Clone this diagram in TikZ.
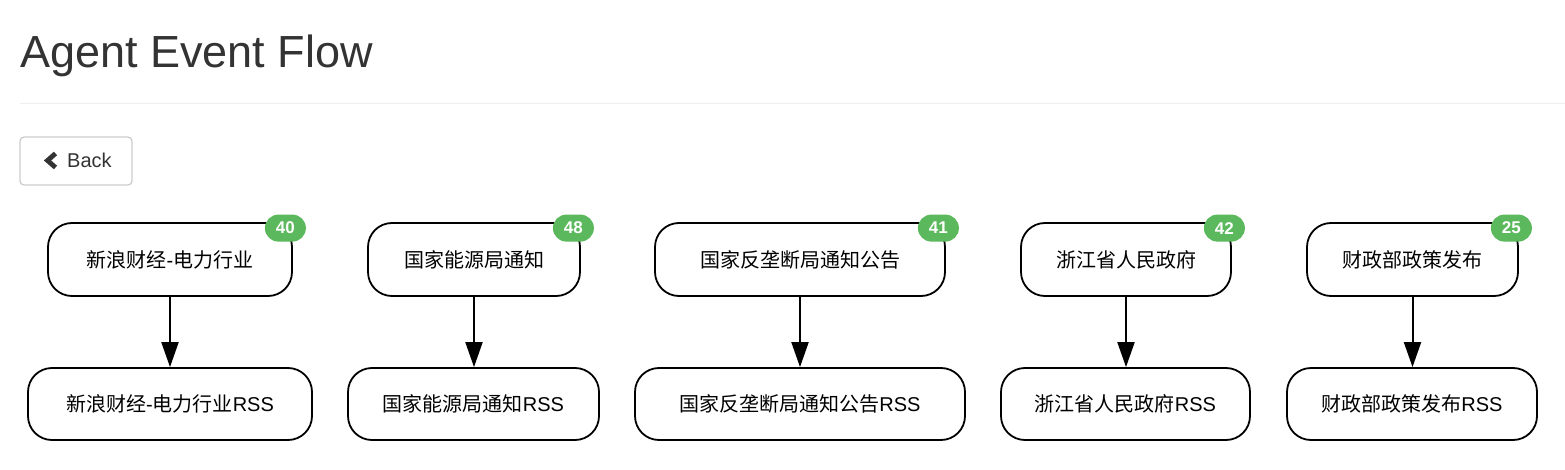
\documentclass[tikz,border=0pt]{standalone}
\usepackage{fontspec}
\setmainfont{Liberation Sans}
\newfontfamily\cjk{Noto Sans CJK SC}
\usetikzlibrary{arrows.meta,calc}
\definecolor{titlegray}{HTML}{333333}
\definecolor{rulegray}{HTML}{EEEEEE}
\definecolor{btnborder}{HTML}{CCCCCC}
\definecolor{badgegreen}{HTML}{5CB85C}
\begin{document}
\begin{tikzpicture}[x=1pt,y=-1pt,
  flownode/.style={draw=black,line width=1.8pt,rounded corners=24pt,fill=white,
    inner sep=0pt,font=\fontsize{20}{24}\selectfont,text=black},
  topnode/.style={flownode,minimum height=73pt},
  botnode/.style={flownode,minimum height=72pt},
  badgenode/.style={fill=badgegreen,rounded corners=13.5pt,minimum width=41pt,
    minimum height=27pt,inner sep=0pt,text=white,font=\bfseries\fontsize{17}{19}\selectfont},
  flowarrow/.style={line width=2pt,-{Triangle[length=25pt,width=17pt]}}]
\useasboundingbox (0,0) rectangle (1565,470);
% header
\node[anchor=base west,inner sep=0pt,text=titlegray,font=\fontsize{45}{54}\selectfont] (title) at (20,68) {Agent Event Flow};
\draw[rulegray,line width=1pt] (20,104) -- (1565,104);
% back button
\node[draw=btnborder,line width=1.3pt,rounded corners=4pt,minimum width=112pt,minimum height=48pt,inner sep=0pt] (back) at (76,161) {};
\draw[titlegray,line width=4.8pt,miter limit=10] (55.5,153.5) -- (47.5,160.5) -- (55.5,167.5);
\node[anchor=base west,inner sep=0pt,text=titlegray,font=\fontsize{20}{24}\selectfont] (backtext) at (67,168) {Back};
% top nodes
\node[topnode,minimum width=244pt] (t1) at (170,259.5) {{\cjk 新浪财经}-{\cjk 电力行业}};
\node[topnode,minimum width=212pt] (t2) at (474,259.5) {\cjk 国家能源局通知};
\node[topnode,minimum width=290pt] (t3) at (800,259.5) {\cjk 国家反垄断局通知公告};
\node[topnode,minimum width=210pt] (t4) at (1126,259.5) {\cjk 浙江省人民政府};
\node[topnode,minimum width=211pt] (t5) at (1412.5,259.5) {\cjk 财政部政策发布};
% bottom nodes
\node[botnode,minimum width=284pt] (b1) at (170,404) {{\cjk 新浪财经}-{\cjk 电力行业}RSS};
\node[botnode,minimum width=251pt] (b2) at (473.5,404) {{\cjk 国家能源局通知}RSS};
\node[botnode,minimum width=330pt] (b3) at (800,404) {{\cjk 国家反垄断局通知公告}RSS};
\node[botnode,minimum width=249pt] (b4) at (1125.5,404) {{\cjk 浙江省人民政府}RSS};
\node[botnode,minimum width=250pt] (b5) at (1412,404) {{\cjk 财政部政策发布}RSS};
% connectors
\foreach \i in {1,...,5}{
  \draw[flowarrow] (t\i.south) -- (t\i.south |- b\i.north);
}
% badges
\node[badgenode] (g1) at ($(t1.north east)+(-7.5,6)$) {40};
\node[badgenode] (g2) at ($(t2.north east)+(-7.5,6)$) {48};
\node[badgenode] (g3) at ($(t3.north east)+(-7.5,6)$) {41};
\node[badgenode] (g4) at ($(t4.north east)+(-7.5,6)$) {42};
\node[badgenode] (g5) at ($(t5.north east)+(-7.5,6)$) {25};
\end{tikzpicture}
\end{document}
